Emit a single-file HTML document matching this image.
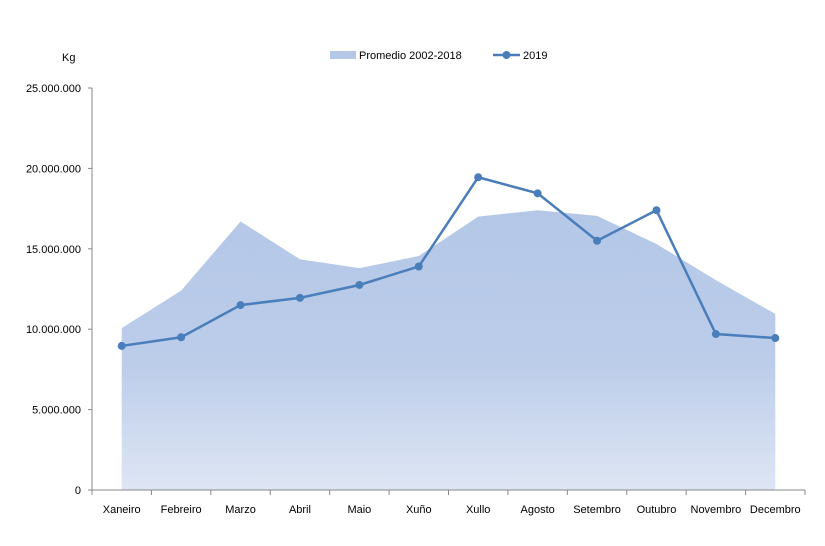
<!DOCTYPE html>
<html><head><meta charset="utf-8"><style>
body{margin:0;background:#fff;font-family:"Liberation Sans",Arial,sans-serif}
svg text{font-family:"Liberation Sans",Arial,sans-serif;font-size:11px;fill:#000}
</style></head><body>
<svg id="c" width="825" height="541">
<defs><linearGradient id="g" x1="0" y1="0" x2="0" y2="1">
<stop offset="0" stop-color="#b4c7e7"/><stop offset="0.55" stop-color="#bccdea"/><stop offset="1" stop-color="#dee6f4"/></linearGradient></defs>
<text x="62" y="61">Kg</text>
<rect x="330" y="51" width="26" height="8" fill="#b4c7e7"/>
<text x="359" y="59">Promedio 2002-2018</text>
<line x1="493" y1="55" x2="520" y2="55" stroke="#4a7ebb" stroke-width="2.5"/>
<circle cx="506.5" cy="55" r="4" fill="#4a7ebb"/>
<text x="523" y="59">2019</text>
<g id="plot"></g>
</svg>
<script>
const categories=["Xaneiro","Febreiro","Marzo","Abril","Maio","Xuño","Xullo","Agosto","Setembro","Outubro","Novembro","Decembro"];
const promedio=[10.07,12.4,16.7,14.35,13.8,14.55,17.0,17.4,17.05,15.3,13.05,10.95];
const serie2019=[8.96,9.5,11.5,11.95,12.75,13.9,19.45,18.45,15.5,17.4,9.7,9.45];
const yTicks=[0,5,10,15,20,25];
const yTickLabels=["0","5.000.000","10.000.000","15.000.000","20.000.000","25.000.000"];
const NS="http://www.w3.org/2000/svg",g=document.getElementById("plot");
const x0=92,x1=805,yb=490,yt=88,ymax=25;
const cw=(x1-x0)/categories.length;
const X=i=>x0+cw*(i+0.5), Y=v=>yb-(v/ymax)*(yb-yt);
function mk(t,a){const e=document.createElementNS(NS,t);for(const k in a)e.setAttribute(k,a[k]);g.appendChild(e);return e;}
let d="M"+X(0)+","+yb;promedio.forEach((v,i)=>d+=" L"+X(i)+","+Y(v));d+=" L"+X(promedio.length-1)+","+yb+"Z";
let a=mk("path",{d:d,fill:"url(#g)"});


let ax=mk("line",{x1:x0,y1:yt,x2:x0,y2:yb,stroke:"#888"});


let bx=mk("line",{x1:x0,y1:yb,x2:x1,y2:yb,stroke:"#888"});


yTicks.forEach((v,i)=>{mk("line",{x1:x0-4,y1:Y(v),x2:x0,y2:Y(v),stroke:"#888"});
let t=mk("text",{x:x0-11,y:Y(v)+4,"text-anchor":"end"});t.textContent=yTickLabels[i];

});
for(let i=0;i<=categories.length;i++)mk("line",{x1:x0+cw*i,y1:yb,x2:x0+cw*i,y2:yb+5,stroke:"#888"});
categories.forEach((c,i)=>{let t=mk("text",{x:X(i),y:513,"text-anchor":"middle"});t.textContent=c;

});
let l=mk("polyline",{points:serie2019.map((v,i)=>X(i)+","+Y(v)).join(" "),fill:"none",stroke:"#4a7ebb","stroke-width":2.5});


serie2019.forEach((v,i)=>{let p=mk("circle",{cx:X(i),cy:Y(v),r:4,fill:"#4a7ebb"});

});
</script>
</body></html>
